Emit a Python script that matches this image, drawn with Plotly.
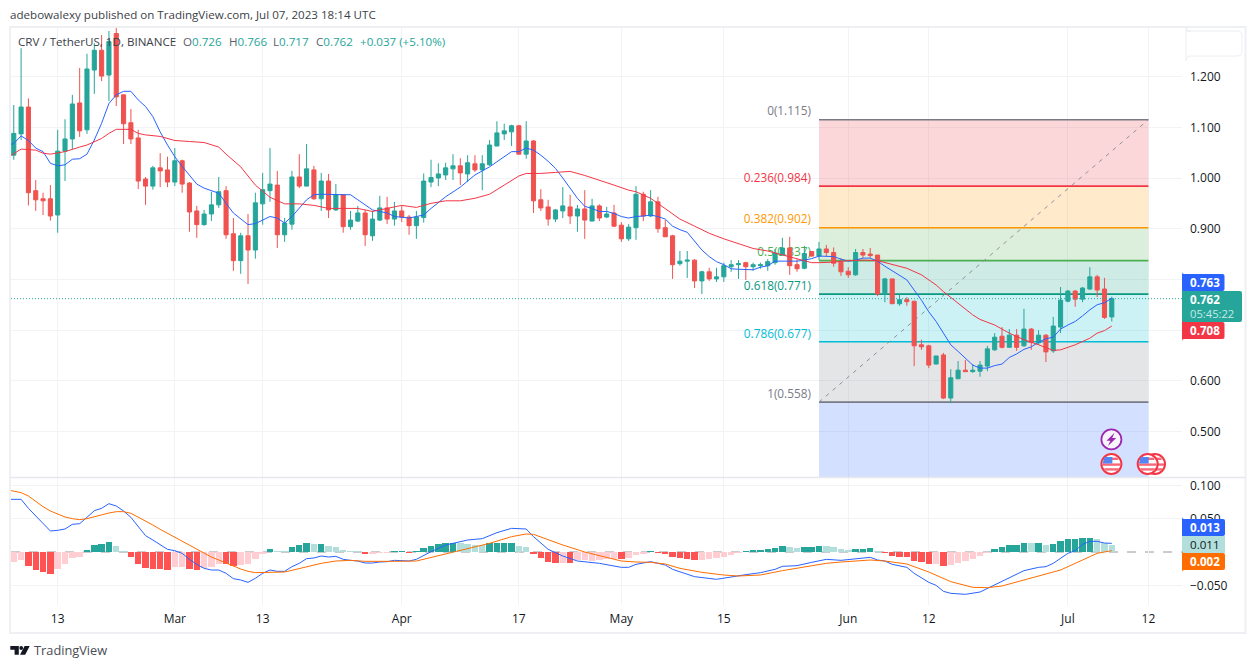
import pandas as pd
import plotly.graph_objects as go

START = pd.Timestamp("2023-02-07")

opens = [1.045,1.087,1.140,.975,.959,.959,.927,1.053,1.077,1.148,1.095,1.213,1.252,1.203,1.285,1.164,1.109,1.079,.998,.984,
 1.020,1.016,.992,1.034,.990,.935,.908,.929,.947,.975,.890,.837,.886,.858,.949,.975,.986,.888,.909,1.002,
 .984,1.016,.959,.994,.937,.967,.904,.915,.931,.886,.917,.941,.919,.935,.923,.906,.922,.992,1.000,1.006,
 1.018,1.024,1.008,1.028,1.016,1.026,1.063,1.087,1.091,1.103,1.047,1.073,.957,.943,.919,.935,.943,.925,.939,.915,
 .945,.923,.931,.907,.880,.902,.968,.925,.953,.902,.886,.831,.836,.838,.797,.815,.801,.805,.825,.829,
 .833,.825,.827,.827,.833,.848,.862,.829,.822,.855,.846,.860,.853,.834,.816,.809,.853,.850,.848,.771,
 .801,.752,.760,.757,.671,.669,.633,.651,.566,.604,.621,.618,.619,.629,.661,.688,.666,.690,.669,.702,
 .675,.690,.659,.706,.757,.777,.761,.781,.805,.781,.726]
highs = [1.144,1.256,1.157,.996,.971,.986,1.095,1.116,1.164,1.217,1.245,1.266,1.282,1.290,1.297,1.164,1.136,1.095,1.002,1.024,
 1.049,1.042,1.059,1.036,.992,.945,.937,.973,1.002,.984,.921,.892,.929,.971,1.010,1.059,1.014,.921,1.014,1.047,
 1.067,1.024,1.010,1.008,.988,.967,.935,.945,.937,.935,.965,.963,.953,.945,.927,.935,1.009,1.036,1.029,1.030,
 1.047,1.039,1.045,1.045,1.045,1.075,1.112,1.107,1.105,1.105,1.112,1.075,.978,.957,.939,.982,.967,.947,.976,.959,
 .948,.943,.947,.913,.909,.984,.973,.976,.963,.917,.888,.856,.856,.840,.817,.823,.823,.833,.838,.838,
 .835,.833,.833,.840,.860,.882,.884,.840,.866,.856,.874,.868,.863,.842,.824,.860,.860,.862,.848,.803,
 .801,.771,.765,.757,.681,.671,.649,.655,.623,.639,.641,.633,.639,.669,.694,.706,.702,.702,.742,.704,
 .700,.692,.726,.785,.779,.779,.785,.824,.809,.803,.766]
lows = [1.036,1.075,.946,.935,.927,.916,.892,.994,1.057,1.081,1.087,1.166,1.191,1.152,1.142,1.067,1.067,.978,.947,.977,
 .982,.982,.984,.971,.894,.882,.906,.915,.941,.880,.817,.811,.791,.841,.908,.953,.862,.874,.898,.980,
 .984,.957,.935,.921,.935,.892,.898,.913,.866,.876,.915,.909,.906,.913,.888,.880,.912,.982,.984,.996,
 .996,.986,.992,1.012,.976,1.024,1.063,1.075,1.063,1.047,1.038,.931,.935,.906,.913,.921,.909,.894,.880,.915,
 .915,.921,.903,.874,.876,.878,.915,.923,.892,.884,.801,.827,.803,.783,.771,.797,.795,.795,.815,.801,
 .799,.817,.821,.817,.829,.848,.809,.815,.820,.845,.838,.846,.825,.807,.803,.807,.842,.842,.767,.755,
 .752,.748,.748,.629,.661,.625,.633,.564,.556,.604,.618,.616,.608,.619,.659,.664,.666,.659,.667,.661,
 .671,.637,.655,.694,.755,.746,.755,.779,.765,.722,.717]
closes = [1.088,1.140,.971,.957,.955,.925,1.053,1.077,1.146,1.093,1.215,1.252,1.201,1.269,1.160,1.107,1.077,.994,.984,1.020,
 1.014,.992,1.034,.988,.933,.908,.929,.947,.973,.888,.837,.886,.858,.951,.977,.988,.888,.911,1.002,.984,
 1.018,.959,.994,.937,.967,.904,.917,.931,.888,.919,.941,.919,.935,.923,.906,.923,.994,1.001,1.008,1.020,
 1.024,1.010,1.030,1.016,1.028,1.065,1.089,1.093,1.103,1.047,1.073,.955,.941,.919,.937,.945,.925,.939,.917,.945,
 .921,.929,.905,.880,.903,.968,.925,.953,.900,.884,.829,.836,.838,.797,.815,.801,.805,.827,.829,.831,
 .825,.829,.829,.835,.852,.862,.827,.821,.851,.846,.860,.853,.832,.815,.809,.853,.848,.847,.771,.801,
 .752,.760,.756,.669,.667,.631,.649,.566,.606,.621,.618,.621,.631,.663,.686,.666,.690,.666,.702,.676,
 .690,.657,.708,.759,.777,.761,.783,.805,.779,.725,.762]

fast_ma_days = [-1,0,1,2,3,4,5,6,7,8,9,10,11,12,13,14,15,16,17,18,19,20,21,22,23,25,26,28,29,30,32,33,34,35,36,37,38,39,40,41,42,45,46,47,49,50,51,52,54,55,
 56,57,59,61,63,65,67,68,69,70,71,72,73,74,75,76,77,78,79,80,81,82,83,84,85,86,87,88,89,90,91,92,93,94,95,96,97,98,99,100,101,102,103,104,105,106,107,108,109,
 110,111,112,113,114,115,116,117,118,119,120,121,122,123,124,125,126,127,128,129,130,131,132,133,134,135,136,137,138,139,140,141,142,143,144,145,146,147,148,149,150]
fast_ma_values = [1.064,1.068,1.083,1.074,1.059,1.052,1.029,1.024,1.026,1.037,1.038,1.047,1.075,1.108,1.147,1.164,1.171,1.171,1.154,1.141,1.121,1.091,1.065,1.042,1.023,.988,.980,.970,.950,.931,.908,.910,.917,.924,.921,.911,.924,.940,.957,.967,.968,.967,.967,.957,.937,.934,.931,.924,.921,.924,
 .927,.940,.963,.982,1.006,1.022,1.042,1.052,1.052,1.059,1.055,1.045,1.033,1.019,1.000,.980,.960,.944,.940,.934,.934,.930,.924,.921,.924,.925,.927,.924,.919,.905,.898,.893,.875,.858,.845,.835,.829,.821,.820,.819,.819,.824,.827,.836,.836,.835,.836,.838,.841,
 .846,.846,.845,.840,.836,.838,.842,.842,.836,.826,.817,.809,.799,.779,.759,.736,.717,.694,.671,.658,.644,.631,.625,.625,.630,.633,.646,.653,.662,.667,.676,.683,.686,.702,.710,.717,.728,.740,.750,.754,.763]

slow_ma_days = [-1,1,3,4,5,7,9,10,12,13,14,16,17,18,20,22,24,26,28,29,31,33,35,37,39,41,43,45,47,49,51,53,55,57,59,61,63,65,67,69,70,72,74,76,78,80,82,84,85,87,89,91,93,95,97,99,101,103,105,107,109,
 110,112,114,116,118,120,122,124,126,127,129,131,132,134,136,138,140,142,143,145,147,148,149,150]
slow_ma_values = [1.039,1.057,1.055,1.049,1.047,1.052,1.061,1.065,1.078,1.088,1.096,1.096,1.088,1.085,1.082,1.074,1.072,1.070,1.061,1.047,1.022,.986,.962,.949,.949,.946,.940,.940,.940,.934,.940,.946,.942,.950,.955,.955,.960,.968,.986,1.004,1.009,1.009,1.011,1.013,1.005,.996,.986,.976,.973,.960,.940,.919,.905,.891,.880,.871,.861,.856,.848,.840,.833,
 .833,.834,.837,.838,.837,.830,.822,.809,.789,.776,.753,.730,.721,.710,.694,.681,.671,.660,.661,.671,.684,.694,.699,.708]

macd_hist = [-.015,-.012,-.021,-.027,-.030,-.033,-.0255,-.018,-.009,-.0075,.003,.0105,.012,.015,.009,.0015,-.0075,-.018,-.024,-.0255,
 -.0255,-.027,-.0225,-.0225,-.0255,-.027,-.024,-.0225,-.018,-.018,-.021,-.0195,-.018,-.0105,-.003,.0045,.0015,.0015,.0075,.0105,
 .0135,.012,.012,.009,.0075,.003,.0015,.0005,-.003,-.003,-.0015,-.001,.0015,.0015,-.0015,.0015,.006,.009,.012,.0135,
 .0135,.0135,.012,.0105,.0105,.0135,.0135,.0135,.0135,.009,.0075,-.0025,-.009,-.015,-.0165,-.0165,-.0165,-.012,-.012,-.0135,
 -.012,-.0105,-.0105,-.0105,-.009,-.0045,-.003,.0015,-.0015,-.003,-.0075,-.009,-.0105,-.012,-.012,-.0105,-.009,-.0075,-.0045,-.0005,
 .0015,.003,.003,.0045,.006,.009,.0075,.006,.0075,.0075,.009,.009,.0075,.0045,.003,.0045,.0045,.006,.0005,-.0015,
 -.006,-.0075,-.0075,-.0135,-.015,-.018,-.018,-.021,-.0195,-.0165,-.0135,-.0105,-.006,-.0015,.0045,.0075,.0105,.0105,.0135,.0135,
 .0135,.0105,.012,.0165,.0195,.0195,.021,.021,.0195,.0135,.011]
hist_rising = [1,1,0,0,0,0,1,1,1,1,1,1,1,1,0,0,0,0,0,0,
 0,0,1,1,0,0,1,1,1,0,0,1,1,1,1,1,0,0,1,1,
 1,0,1,0,0,0,0,0,0,1,1,1,1,1,0,1,1,1,1,1,
 1,0,0,0,0,1,1,1,1,0,0,0,0,0,0,1,0,1,1,1,
 1,1,1,0,1,1,1,1,0,0,0,0,0,0,1,1,1,1,1,1,
 1,1,1,1,1,1,0,0,1,1,1,0,0,0,0,1,1,1,0,0,
 0,0,0,0,0,0,1,0,1,1,1,1,1,1,1,1,1,1,1,0,
 1,0,1,1,1,1,1,1,0,0,0]

macd_days = [-1,1,2,3,4,5,6,7,8,9,10,11,12,13,14,15,16,17,18,19,20,21,22,23,24,25,26,27,28,29,30,31,32,33,34,35,36,37,38,39,40,41,42,43,44,45,46,47,48,49,50,51,52,53,54,55,
 57,59,62,64,66,68,70,71,73,75,77,80,82,83,84,85,87,89,90,92,93,96,98,100,102,104,105,107,109,111,113,
 115,117,118,119,120,122,123,125,126,127,128,130,132,133,134,136,137,138,140,141,142,144,145,146,147,148,149,150]
macd_values = [.079,.079,.0655,.054,.043,.0315,.0325,.0345,.0415,.0425,.052,.062,.0655,.0725,.069,.0615,.052,.038,.0245,.018,.0115,.004,.002,-.002,-.011,-.0185,-.0245,-.027,-.027,-.032,-.04,-.042,-.0455,-.0395,-.032,-.027,-.029,-.029,-.022,-.017,-.01,-.009,-.006,-.0075,-.0065,-.011,-.0125,-.0135,-.0165,-.0165,-.015,-.0145,-.0125,-.0125,-.0135,-.011,
 .0005,.0105,.018,.02,.029,.0355,.0345,.023,.004,-.006,-.0135,-.017,-.021,-.023,-.023,-.0185,-.0145,-.0195,-.026,-.033,-.037,-.041,-.037,-.034,-.031,-.026,-.0215,-.0205,-.0155,-.011,-.0125,
 -.0105,-.008,-.012,-.0135,-.0185,-.023,-.032,-.0455,-.05,-.059,-.062,-.0635,-.06,-.0545,-.0495,-.038,-.0335,-.028,-.023,-.022,-.017,-.002,.002,.0115,.016,.016,.0135,.013]

signal_days = [-1,1,2,3,4,5,6,7,8,9,10,11,12,13,14,15,16,17,18,19,20,21,22,23,24,25,26,27,28,29,30,31,32,33,34,35,37,38,40,42,44,46,48,50,52,55,
 59,62,65,68,70,71,73,75,78,81,83,85,87,89,91,94,97,99,102,105,108,111,113,
 115,117,119,122,125,128,131,133,135,138,141,143,146,148,150]
signal_values = [.0935,.089,.084,.0755,.068,.0615,.0565,.0525,.05,.0485,.05,.053,.056,.0585,.0605,.0605,.058,.0525,.0465,.0405,.034,.028,.0225,.0165,.01,.0035,-.0025,-.0075,-.012,-.016,-.021,-.0255,-.029,-.031,-.031,-.0305,-.03,-.0275,-.022,-.017,-.0135,-.0125,-.014,-.0145,-.014,-.0135,
 -.003,.0055,.013,.023,.027,.0265,.018,.0105,0,-.008,-.0135,-.015,-.0155,-.018,-.0245,-.0305,-.0345,-.036,-.0345,-.028,-.023,-.017,-.015,
 -.0135,-.012,-.0135,-.018,-.03,-.0445,-.053,-.0535,-.051,-.042,-.034,-.027,-.012,-.002,.002]

fib_ratios = ["0", "0.236", "0.382", "0.5", "0.618", "0.786", "1"]
fib_levels = [1.115, .984, .902, .837, .771, .677, .558]
fib_line_colors = ["#787b86", "#f23645", "#ff9800", "#4caf50", "#089981", "#00bcd4", "#787b86"]
fib_fill_colors = ["rgba(242,54,69,.2)", "rgba(255,152,0,.2)", "rgba(76,175,80,.2)", "rgba(8,153,129,.2)",
                   "rgba(0,188,212,.2)", "rgba(120,123,134,.2)", "rgba(41,98,255,.2)"]

price_ticks = [.5, .6, .7, .8, .9, 1.0, 1.1, 1.2]
price_tick_labels = ["0.500", "0.600", "", "", "0.900", "1.000", "1.100", "1.200"]
macd_ticks = [-.05, .05, .1]
macd_tick_labels = ["−0.050", "0.050", "0.100"]
time_tick_dates = ["2023-02-13", "2023-03-01", "2023-03-13", "2023-04-01", "2023-04-17", "2023-05-01",
                   "2023-05-15", "2023-06-01", "2023-06-12", "2023-07-01", "2023-07-12"]
time_tick_labels = ["13", "Mar", "13", "Apr", "17", "May", "15", "Jun", "12", "Jul", "12"]

GREEN, RED, BLUE, ORANGE = "#26a69a", "#ef5350", "#2962ff", "#ff6d00"
FONT = "Open Sans"
TXT = "#131722"
L, R, T, B, SPLIT = 11, 1182, 27, 605, 477
W, H = R - L, B - T


def day(n):
    return START + pd.Timedelta(days=n)


def dates(ns):
    return [day(n) for n in ns]


def px(x):
    return (x - L) / W


def py(y):
    return (B - y) / H


all_days = list(range(len(opens)))
hist_colors = []
for v, up in zip(macd_hist, hist_rising):
    if v >= 0:
        hist_colors.append("#26a69a" if up else "#b2dfdb")
    else:
        hist_colors.append("#ffcdd2" if up else "#ff5252")

fig = go.Figure()
fig.add_trace(go.Candlestick(
    x=dates(all_days), open=opens, high=highs, low=lows, close=closes,
    increasing=dict(line=dict(color=GREEN, width=1), fillcolor=GREEN),
    decreasing=dict(line=dict(color=RED, width=1), fillcolor=RED),
    whiskerwidth=0, xaxis="x", yaxis="y", hoverinfo="skip"))
fig.add_trace(go.Scatter(x=dates(fast_ma_days), y=fast_ma_values, mode="lines",
                         line=dict(color=BLUE, width=1), xaxis="x", yaxis="y", hoverinfo="skip"))
fig.add_trace(go.Scatter(x=dates(slow_ma_days), y=slow_ma_values, mode="lines",
                         line=dict(color="#f23645", width=1), xaxis="x", yaxis="y", hoverinfo="skip"))
fig.add_trace(go.Bar(x=dates(all_days), y=macd_hist, marker=dict(color=hist_colors, line=dict(width=0)),
                     width=0.88 * 86400000, xaxis="x2", yaxis="y2", hoverinfo="skip"))
fig.add_trace(go.Scatter(x=dates(macd_days), y=macd_values, mode="lines",
                         line=dict(color=BLUE, width=1), xaxis="x2", yaxis="y2", hoverinfo="skip"))
fig.add_trace(go.Scatter(x=dates(signal_days), y=signal_values, mode="lines",
                         line=dict(color=ORANGE, width=1), xaxis="x2", yaxis="y2", hoverinfo="skip"))

shapes = []
annotations = []


def text(x, y, s, size=11.6, color=TXT, anchor="left"):
    annotations.append(dict(text=s, xref="paper", yref="paper", x=px(x - 2), y=py(y), xanchor=anchor, yanchor="middle",
                            showarrow=False, font=dict(family=FONT, size=size, color=color)))


def path(d, fill="rgba(0,0,0,0)", line=None, width=0, layer="above"):
    shapes.append(dict(type="path", xref="paper", yref="paper", path=d, fillcolor=fill,
                       line=dict(color=line or "rgba(0,0,0,0)", width=width), layer=layer))


def rr(x0, y0, x1, y1, r):
    a, b, c, d = px(x0), px(x1), py(y0), py(y1)
    rx, ry = r / W, r / H
    return (f"M{a},{c} L{b-rx},{c} Q{b},{c} {b},{c-ry} L{b},{d+ry} Q{b},{d} {b-rx},{d} "
            f"L{a+rx},{d} Q{a},{d} {a},{d-ry} L{a},{c+ry} Q{a},{c} {a+rx},{c} Z")


def poly(pts):
    return "M" + " L".join(f"{px(x)},{py(y)}" for x, y in pts) + " Z"


def circle(x, y, r, fill, line, width):
    shapes.append(dict(type="circle", xref="paper", yref="paper", x0=px(x - r), x1=px(x + r), y0=py(y + r), y1=py(y - r),
                       fillcolor=fill, line=dict(color=line, width=width), layer="above"))


def hline(x0, x1, y, color, width):
    shapes.append(dict(type="line", xref="paper", yref="paper", x0=px(x0), x1=px(x1), y0=py(y), y1=py(y),
                       line=dict(color=color, width=width), layer="above"))


# Fibonacci tool
fib_x0, fib_x1 = day(110), day(155)
price_bottom = 1 - (477 - 178) / 507
price_top = 1 + (178 - 27) / 507
bounds = fib_levels + [price_bottom]
for k, fill in enumerate(fib_fill_colors):
    shapes.append(dict(type="rect", xref="x", yref="y", x0=fib_x0, x1=fib_x1, y0=bounds[k + 1], y1=bounds[k],
                       fillcolor=fill, line=dict(width=0), layer="between"))
for ratio, level, color in zip(fib_ratios, fib_levels, fib_line_colors):
    shapes.append(dict(type="line", xref="x", yref="y", x0=fib_x0, x1=fib_x1, y0=level, y1=level,
                       line=dict(color=color, width=1.6), layer="between"))
    shapes.append(dict(type="line", xref="x", yref="y", x0=day(108.9), x1=fib_x0, y0=level, y1=level,
                       line=dict(color="rgba(0,0,0,0)", width=0), layer="between",
                       label=dict(text=f"{ratio}({level:.3f})", textposition="start", xanchor="right", yanchor="bottom",
                                  padding=0, font=dict(family=FONT, size=11.8, color=color))))
shapes.append(dict(type="line", xref="x", yref="y", x0=fib_x0, x1=fib_x1, y0=fib_levels[-1], y1=fib_levels[0],
                   line=dict(color="#8f9199", width=1, dash="4px,5px"), layer="between"))
# Last-price dotted line and MACD zero line
shapes.append(dict(type="line", xref="paper", yref="y", x0=0, x1=1, y0=closes[-1], y1=closes[-1],
                   line=dict(color=GREEN, width=1, dash="1px,2px"), layer="above"))
shapes.append(dict(type="line", xref="paper", yref="y2", x0=0, x1=1, y0=0, y1=0,
                   line=dict(color="#9598a1", width=1, dash="dash"), layer="between"))

# Chart frame
path(poly([(10, 27), (1245.5, 27), (1245.5, 633), (10, 633)]), line="#eff0f3", width=2)
hline(10, 1245.5, 477.5, "#e6e8ee", 1.5)
path(rr(1186, 31, 1242, 56, 5), fill="#ffffff", line="#eceef2", width=1)

# Price scale badges
path(rr(1182, 274, 1224.5, 291, 2), fill=BLUE)
text(1190, 282.5, "<b>0.763</b>", 11.6, "#ffffff")
path(rr(1182, 291, 1242, 322, 2), fill=GREEN)
text(1190, 299.5, "<b>0.762</b>", 11.6, "#ffffff")
text(1190, 313.5, "05:45:22", 11.2, "#c8e9e5")
path(rr(1182, 322, 1224.5, 339, 2), fill="#f23645")
text(1190, 330.5, "<b>0.708</b>", 11.6, "#ffffff")

# MACD scale badges
path(rr(1182, 519, 1225, 536, 2), fill=BLUE)
text(1190, 527.5, "<b>0.013</b>", 11.6, "#ffffff")
path(rr(1182, 536, 1225, 553, 0.5), fill="#b2dfdb")
text(1190, 544.5, "0.011", 11.6, TXT)
path(rr(1182, 553, 1225, 570, 2), fill=ORANGE)
text(1190, 561.5, "<b>0.002</b>", 11.6, "#ffffff")

# Event icons
circle(1111.4, 439.4, 10, "#f8f4fb", "#9c27b0", 1.8)
path(poly([(1114.5, 432.8), (1106.5, 440.8), (1110.4, 440.8), (1108, 446), (1116.2, 438), (1112.2, 438)]), fill="#9c27b0")
for cx in (1155, 1147.7, 1111.4):
    circle(cx, 464, 10, "#ffffff", "#f23645", 2)
    for dy, half in ((-5.2, 6.5), (0.6, 9), (5.4, 7)):
        hline(cx - half, cx + half, 464 + dy, "#f56a76", 2.4)
    path(poly([(cx - 7, 457), (cx + 1, 457), (cx + 1, 463.6), (cx - 8.8, 463.6)]), fill="#5585f2")

# Header texts
text(10, 15, "adebowalexy published on TradingView.com, Jul 07, 2023 18:14 UTC", 11.6, "#3c3f48")
text(18, 42, "CRV / TetherUS, 1D, BINANCE", 11.6, "#3c3f48")
for x, letter, value in ((183, "O", "0.726"), (229, "H", "0.766"), (273, "L", "0.717"), (316, "C", "0.762")):
    text(x, 42, f'<span style="color:#5d606b">{letter}</span><span style="color:{GREEN}">{value}</span>', 11.6, GREEN)
text(360, 42, "+0.037 (+5.10%)", 11.6, GREEN)

# TradingView logo
path(poly([(10.3, 646), (18.8, 646), (18.8, 654.8), (14.6, 654.8), (14.6, 649.8), (10.3, 649.8)]), fill="#131722")
circle(21.2, 648, 1.9, "#131722", "#131722", 0)
path(poly([(24.6, 646), (29.7, 646), (25.2, 654.8), (20, 654.8)]), fill="#131722")
text(33.5, 650, "TradingView", 12.8, "#4a4c55")

grid = "#f2f3f6"
x_range = [day(-0.38), day(159.59)]
axis_font = dict(family=FONT, size=12, color=TXT)
main_bottom = (B - SPLIT) / H
fig.update_layout(
    width=1256, height=668, autosize=False, showlegend=False, template=None,
    paper_bgcolor="#ffffff", plot_bgcolor="#ffffff", hovermode=False, dragmode=False,
    margin=dict(l=L, r=1256 - R, t=T, b=668 - B), font=dict(family=FONT),
    boxgap=0.2, boxgroupgap=0.3, bargap=0,
    xaxis=dict(domain=[0, 1], anchor="y", type="date", range=x_range, rangeslider=dict(visible=False),
               tickmode="array", tickvals=time_tick_dates, ticktext=[""] * len(time_tick_dates),
               showgrid=True, gridcolor=grid, gridwidth=1, showline=False, zeroline=False, ticks=""),
    xaxis2=dict(domain=[0, 1], anchor="y2", type="date", matches="x", range=x_range,
                tickmode="array", tickvals=time_tick_dates, ticktext=time_tick_labels, tickangle=0,
                showgrid=True, gridcolor=grid, gridwidth=1, showline=False, zeroline=False, ticks="",
                tickfont=axis_font, ticklabelstandoff=5),
    yaxis=dict(domain=[main_bottom, 1], anchor="x", side="right", range=[price_bottom, price_top],
               tickmode="array", tickvals=price_ticks, ticktext=price_tick_labels,
               showgrid=True, gridcolor=grid, gridwidth=1, showline=False, zeroline=False, ticks="",
               tickfont=axis_font, ticklabelstandoff=7),
    yaxis2=dict(domain=[0, (B - SPLIT - 1) / H], anchor="x2", side="right", range=[-53 / 666.7, 74 / 666.7],
                tickmode="array", tickvals=macd_ticks, ticktext=macd_tick_labels,
                showgrid=True, gridcolor=grid, gridwidth=1, showline=False, zeroline=False, ticks="",
                tickfont=axis_font, ticklabelstandoff=7),
    shapes=shapes, annotations=annotations,
)

fig.write_html("out.html", config={"displayModeBar": False},
               post_script="document.body.style.margin='0';document.body.style.overflow='hidden';")
